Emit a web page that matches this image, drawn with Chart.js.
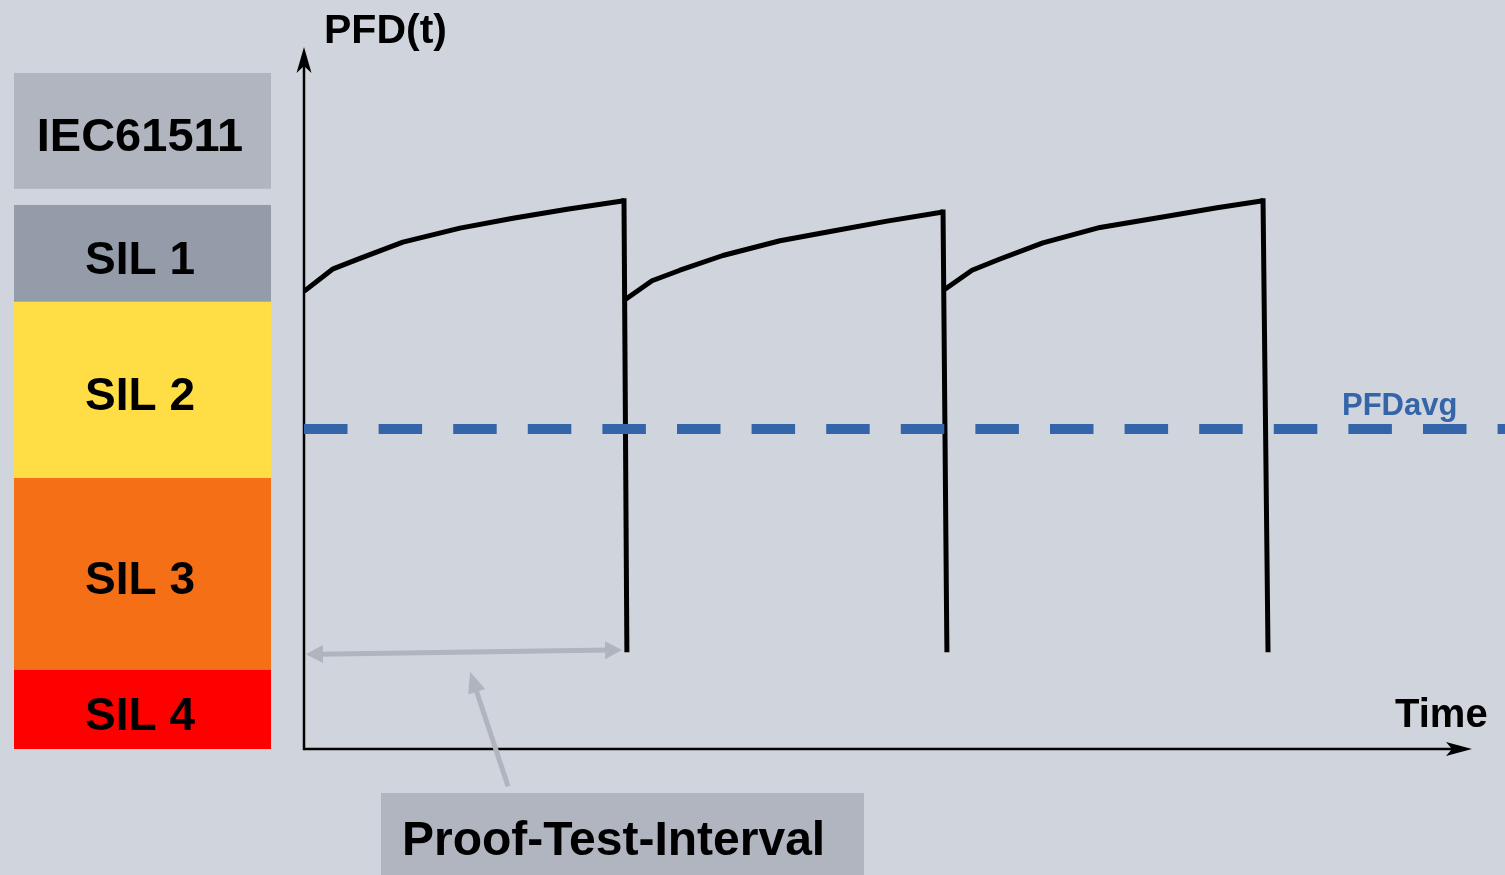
<!DOCTYPE html>
<html><head><meta charset="utf-8">
<script src="https://cdn.jsdelivr.net/npm/chart.js@4.4.1/dist/chart.umd.min.js"></script>
<style>html,body{margin:0;padding:0;background:#d0d4dc;overflow:hidden}canvas{display:block}</style>
</head><body>
<canvas id="c" width="1505" height="875"></canvas>
<script>
// ---- data (time in proof-test intervals, PFD in relative schematic units) ----
const cycle1Time = [0, 0.091, 0.175, 0.309, 0.4875, 0.653, 0.822, 1.0];
const cycle1PFD  = [65.2, 68.4, 69.9, 72.2, 74.2, 75.6, 76.9, 78.1];
const cycle2Time = [1.003, 1.0875, 1.175, 1.309, 1.4875, 1.653, 1.822, 1.997];
const cycle2PFD  = [64.0, 66.7, 68.2, 70.3, 72.4, 73.8, 75.2, 76.5];
const cycle3Time = [2.003, 2.0875, 2.175, 2.309, 2.4875, 2.697, 2.853, 2.997];
const cycle3PFD  = [65.5, 68.2, 69.8, 72.1, 74.3, 75.9, 77.1, 78.1];
const testTime     = [1.0, 1.997, 2.997];     // proof test instants (top of drop)
const testEndTime  = [1.009, 2.009, 3.0125];  // bottom of drop
const testPeakPFD  = [78.1, 76.5, 78.1];
const testResetPFD = [13.8, 13.8, 13.8];
const pfdAvgTime  = [0, 3.76];
const pfdAvgValue = [45.6, 45.6];
const silLabels = ['SIL 1', 'SIL 2', 'SIL 3', 'SIL 4'];
const silUpper  = [77.5, 63.7, 38.6, 11.3];
const silLower  = [63.7, 38.6, 11.3, 0];
const standardLabel = 'IEC61511';
const standardRange = [79.8, 96.3];
const intervalTime  = [0.006, 0.994];
const intervalLevel = [13.5, 14.1];
const pointerFrom = [0.6375, -5.3];
const pointerTo   = [0.519, 11.0];
const axisTitles = { y: 'PFD(t)', x: 'Time', avg: 'PFDavg', interval: 'Proof-Test-Interval' };

// ---- styles ----
const BG = '#d0d4dc';
const silColors = ['#939ca8', '#ffdd44', '#f56f17', '#ff0000'];
const standardColor = '#b1b5c0';
const greyArrow = '#b0b4be';
const blue = '#3465a8';
const FONT = '"Liberation Sans", Arial, Helvetica, sans-serif';

function pts(xs, ys) { return xs.map((x, i) => ({ x, y: ys[i] })); }

function stealth(ctx, tipX, tipY, dirX, dirY, len, half, notch) {
  const nx = -dirY, ny = dirX;
  const bx = tipX - dirX * len, by = tipY - dirY * len;
  const cx = tipX - dirX * (len - notch), cy = tipY - dirY * (len - notch);
  ctx.beginPath();
  ctx.moveTo(tipX, tipY);
  ctx.lineTo(bx + nx * half, by + ny * half);
  ctx.lineTo(cx, cy);
  ctx.lineTo(bx - nx * half, by - ny * half);
  ctx.closePath();
  ctx.fill();
}
function tri(ctx, tipX, tipY, fromX, fromY, len, half) {
  const d = Math.hypot(tipX - fromX, tipY - fromY);
  const ux = (tipX - fromX) / d, uy = (tipY - fromY) / d;
  const nx = -uy, ny = ux;
  const bx = tipX - ux * len, by = tipY - uy * len;
  ctx.beginPath();
  ctx.moveTo(tipX, tipY);
  ctx.lineTo(bx + nx * half, by + ny * half);
  ctx.lineTo(bx - nx * half, by - ny * half);
  ctx.closePath();
  ctx.fill();
}

const decor = {
  id: 'decor',
  beforeDraw(chart) {
    const ctx = chart.ctx, xs = chart.scales.x, ys = chart.scales.y, a = chart.chartArea;
    ctx.save();
    ctx.fillStyle = BG;
    ctx.fillRect(0, 0, chart.width, chart.height);
    // SIL band boxes
    const bl = 14, br = 271, cx = 140;
    ctx.textAlign = 'center';
    ctx.textBaseline = 'alphabetic';
    const t0 = ys.getPixelForValue(standardRange[1]), t1 = ys.getPixelForValue(standardRange[0]);
    ctx.fillStyle = standardColor;
    ctx.fillRect(bl, t0, br - bl, t1 - t0);
    ctx.fillStyle = '#000';
    ctx.font = 'bold 47px ' + FONT;
    ctx.fillText(standardLabel, cx, (t0 + t1) / 2 + 20);
    ctx.font = 'bold 46px ' + FONT;
    silLabels.forEach((lab, i) => {
      const top = ys.getPixelForValue(silUpper[i]), bot = ys.getPixelForValue(silLower[i]);
      ctx.fillStyle = silColors[i];
      ctx.fillRect(bl, top, br - bl, bot - top);
      ctx.fillStyle = '#000';
      ctx.fillText(lab, cx, (top + bot) / 2 + 20.5);
    });
    // axes
    const x0 = xs.getPixelForValue(0), y0 = ys.getPixelForValue(0);
    ctx.strokeStyle = '#000';
    ctx.fillStyle = '#000';
    ctx.lineWidth = 2.5;
    ctx.beginPath();
    ctx.moveTo(x0, y0 + 1);
    ctx.lineTo(x0, a.top + 10);
    ctx.moveTo(x0 - 1, y0);
    ctx.lineTo(a.right - 10, y0);
    ctx.stroke();
    stealth(ctx, x0, a.top, 0, -1, 26, 7.5, 7);
    stealth(ctx, a.right, y0, 1, 0, 26, 7, 6);
    ctx.restore();
  },
  afterDatasetsDraw(chart) {
    const ctx = chart.ctx, xs = chart.scales.x, ys = chart.scales.y;
    ctx.save();
    // proof-test interval double arrow
    const lx = xs.getPixelForValue(intervalTime[0]), ly = ys.getPixelForValue(intervalLevel[0]);
    const rx = xs.getPixelForValue(intervalTime[1]), ry = ys.getPixelForValue(intervalLevel[1]);
    ctx.strokeStyle = greyArrow;
    ctx.fillStyle = greyArrow;
    ctx.lineWidth = 5;
    ctx.beginPath();
    ctx.moveTo(lx + 12, ly);
    ctx.lineTo(rx - 12, ry);
    ctx.stroke();
    tri(ctx, lx, ly, rx, ry, 17, 9);
    tri(ctx, rx, ry, lx, ly, 17, 9);
    // pointer arrow
    const fx = xs.getPixelForValue(pointerFrom[0]), fy = ys.getPixelForValue(pointerFrom[1]);
    const tx = xs.getPixelForValue(pointerTo[0]), ty = ys.getPixelForValue(pointerTo[1]);
    const d = Math.hypot(tx - fx, ty - fy);
    ctx.beginPath();
    ctx.moveTo(fx, fy);
    ctx.lineTo(tx - (tx - fx) / d * 14, ty - (ty - fy) / d * 14);
    ctx.stroke();
    tri(ctx, tx, ty, fx, fy, 21, 9);
    // interval label box
    ctx.fillStyle = standardColor;
    ctx.fillRect(381, 793, 864 - 381, 875 - 793);
    ctx.fillStyle = '#000';
    ctx.textAlign = 'left';
    ctx.textBaseline = 'alphabetic';
    ctx.font = 'bold 48px ' + FONT;
    ctx.fillText(axisTitles.interval, 402, 855);
    // axis titles
    ctx.font = 'bold 41px ' + FONT;
    ctx.fillText(axisTitles.y, 324, 43);
    ctx.font = 'bold 40px ' + FONT;
    ctx.fillText(axisTitles.x, 1395, 727);
    // PFDavg label
    ctx.fillStyle = blue;
    ctx.font = 'bold 31px ' + FONT;
    ctx.fillText(axisTitles.avg, 1342, 415);
    ctx.restore();
  }
};

const curveStyle = {
  borderColor: '#000', borderWidth: 5, pointRadius: 0, showLine: true,
  tension: 0, borderJoinStyle: 'round', borderCapStyle: 'butt', fill: false, order: 2
};
const dropStyle = {
  borderColor: '#000', borderWidth: 5, pointRadius: 0, showLine: true,
  tension: 0, borderCapStyle: 'square', fill: false, order: 2
};
const drops = testTime.map((t, i) => Object.assign({
  label: 'Proof test ' + (i + 1),
  data: [{ x: t, y: testPeakPFD[i] }, { x: testEndTime[i], y: testResetPFD[i] + 0.35 }]
}, dropStyle));

new Chart(document.getElementById('c'), {
  type: 'scatter',
  data: {
    datasets: [
      { label: 'PFDavg', data: pts(pfdAvgTime, pfdAvgValue), borderColor: blue, borderWidth: 10,
        borderDash: [43.5, 31.1], borderCapStyle: 'butt', pointRadius: 0, showLine: true, clip: false, order: 1 },
      Object.assign({ label: 'Interval 1', data: pts(cycle1Time, cycle1PFD) }, curveStyle),
      Object.assign({ label: 'Interval 2', data: pts(cycle2Time, cycle2PFD) }, curveStyle),
      Object.assign({ label: 'Interval 3', data: pts(cycle3Time, cycle3PFD) }, curveStyle),
      ...drops
    ]
  },
  options: {
    responsive: false,
    animation: false,
    devicePixelRatio: 1,
    layout: { padding: { left: 304, right: 33, top: 47, bottom: 126 } },
    plugins: { legend: { display: false }, tooltip: { enabled: false }, title: { display: false } },
    scales: {
      x: { type: 'linear', display: false, min: 0, max: 3.65 },
      y: { type: 'linear', display: false, min: 0, max: 100 }
    }
  },
  plugins: [decor]
});
</script>
</body></html>
